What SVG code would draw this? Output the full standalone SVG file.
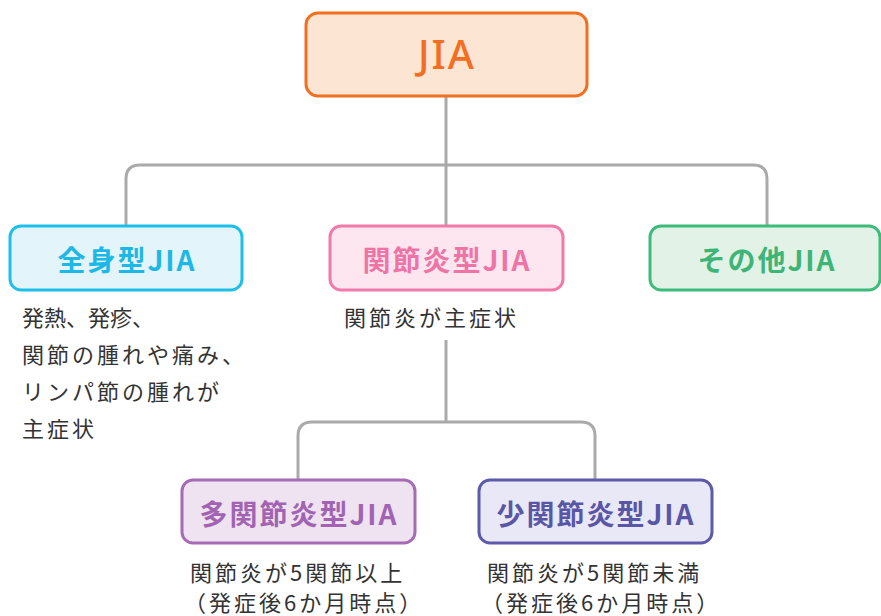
<svg xmlns="http://www.w3.org/2000/svg" width="881" height="616" viewBox="0 0 881 616">
<style>
.box{stroke-width:3}
.lbl{font-family:"Noto Sans CJK JP","Noto Sans",sans-serif;font-weight:700;font-size:28px;text-anchor:middle;letter-spacing:2px}
.desc{font-family:"Noto Sans CJK JP","Noto Sans",sans-serif;font-size:22px;fill:#333;letter-spacing:3px}
.tight{letter-spacing:0px}
.conn{fill:none;stroke:#aaaaaa;stroke-width:3}
</style>
<rect width="881" height="616" fill="#ffffff"/>
<g id="connectors">
<path class="conn" d="M446 96 V165 M126 226 V179 Q126 165 140 165 H753 Q767 165 767 179 V226 M446 165 V226"/>
<path class="conn" d="M446 340 V422 M298 480 V436 Q298 422 312 422 H581 Q595 422 595 436 V480"/>
</g>
<g id="root">
<rect class="box" x="306" y="13" width="281" height="83" rx="12" fill="#FDE5D4" stroke="#F26F21"/>
<text x="447" y="69" font-family="'Noto Sans','Noto Sans CJK JP',sans-serif" font-size="40" font-weight="500" letter-spacing="2" fill="#F26F21" text-anchor="middle">JIA</text>
</g>
<g id="systemic">
<rect class="box" x="10" y="226" width="232" height="64" rx="11" fill="#E3F4FB" stroke="#1EC0EA"/>
<text class="lbl" x="127" y="271" fill="#1EB8E6">全身型JIA</text>
<text class="desc tight" x="22" y="326">発熱、発疹、</text>
<text class="desc" x="22" y="363">関節の腫れや痛み、</text>
<text class="desc" x="22" y="400">リンパ節の腫れが</text>
<text class="desc" x="22" y="437">主症状</text>
</g>
<g id="arthritis">
<rect class="box" x="330" y="226" width="233" height="64" rx="11" fill="#FDE6F0" stroke="#F07AAA"/>
<text class="lbl" x="447" y="271" fill="#EE74A6">関節炎型JIA</text>
<text class="desc" x="344" y="326">関節炎が主症状</text>
</g>
<g id="other">
<rect class="box" x="650" y="226" width="230" height="64" rx="11" fill="#E3F2E6" stroke="#3DBB7A"/>
<text class="lbl" x="767" y="271" fill="#3DB576">その他JIA</text>
</g>
<g id="poly">
<rect class="box" x="182" y="480" width="233" height="63" rx="11" fill="#EFE3F1" stroke="#A66BB5"/>
<text class="lbl" x="299" y="525" fill="#A264B2">多関節炎型JIA</text>
<text class="desc" x="190" y="581">関節炎が5関節以上</text>
<text class="desc" x="184" y="611">（発症後6か月時点）</text>
</g>
<g id="oligo">
<rect class="box" x="479" y="480" width="233" height="63" rx="11" fill="#E9E8F6" stroke="#5E5AAA"/>
<text class="lbl" x="596" y="525" fill="#5A56A6">少関節炎型JIA</text>
<text class="desc" x="487" y="581">関節炎が5関節未満</text>
<text class="desc" x="481" y="611">（発症後6か月時点）</text>
</g>
</svg>
